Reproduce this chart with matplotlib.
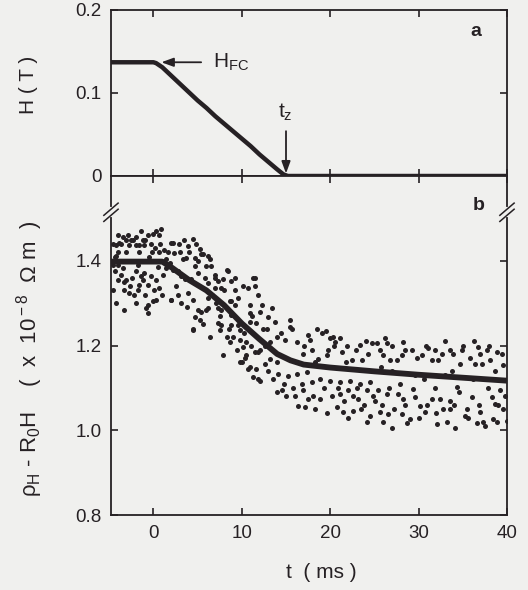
import matplotlib.pyplot as plt

plt.rcParams['font.family'] = 'Liberation Sans'
plt.rcParams['mathtext.fontset'] = 'custom'
plt.rcParams['mathtext.rm'] = 'Liberation Sans'
plt.rcParams['mathtext.it'] = 'Liberation Sans'
plt.rcParams['mathtext.bf'] = 'Liberation Sans:bold'

INK = '#262124'
PAPER = '#f0f0ee'

# (a) applied field during the field-cooled ramp down
t_field = [-4.8, 0.0, 0.3, 1.0, 2.0, 3.0, 4.0, 5.0, 6.0, 7.0, 8.0, 9.0, 10.0,
           11.0, 12.0, 13.0, 14.0, 14.7, 15.2, 20.0, 25.0, 30.0, 35.0, 40.0]
h_field = [0.137, 0.137, 0.136, 0.131, 0.121, 0.111, 0.101, 0.091, 0.082, 0.072,
           0.063, 0.054, 0.045, 0.036, 0.026, 0.017, 0.008, 0.002, 0.0, 0.0,
           0.0, 0.0, 0.0, 0.0]

# (b) Hall resistivity minus ordinary part, smoothed curve
t_fit = [-4.8, 1.0, 2.0, 4.0, 6.0, 8.0, 10.0, 12.0, 14.0, 15.5, 17.0, 20.0,
         25.0, 30.0, 35.0, 40.0]
rho_fit = [1.398, 1.398, 1.385, 1.355, 1.330, 1.295, 1.252, 1.215, 1.180,
           1.165, 1.155, 1.148, 1.139, 1.131, 1.124, 1.117]

# (b) raw points
t_pts = [-3.96, -3.40, -3.06, -2.72, -2.26, -1.93, -1.59, -1.36, -0.57, 0.00,
         0.34, 0.68, 0.91, -4.19, -3.85, -1.02, 1.25, 2.26, 2.38, -4.19,
         -3.96, -3.40, -3.62, -3.06, -3.96, -4.53, -1.93, -1.36, -1.02, -1.13,
         -3.28, -2.72, -2.15, -0.23, 0.34, 0.68, 1.13, 1.47, -0.57, -1.59,
         0.00, 0.34, -0.57, -0.79, -0.57, 2.04, 3.17, -3.28, -4.30, -2.80,
         -1.80, -0.50, 0.50, -4.60, -2.50, -0.90, -4.40, -2.40, 0.20, -3.10,
         -1.60, 0.60, -4.60, -4.00, -3.70, -2.90, -2.00, -1.20, -0.30, 0.80,
         -3.30, -2.60, -1.70, -0.90, 0.10, 1.00, -4.20, -2.00, -0.20, 1.60,
         2.60, 3.00,
         3.93, 4.49, 4.87, 5.25, 5.63, 6.19, 6.00, 3.36, 3.74, 4.68,
         5.06, 4.30, 3.93, 4.49, 5.06, 4.68, 5.25, 4.49, 6.00, 6.19,
         1.47, 1.85, 2.23, 2.79, 3.17, 3.55, 2.04, 2.04, 5.44, 8.46,
         9.21, 9.59, 11.47, 10.70, 11.85, 10.90, 8.83, 7.70, 8.27, 9.97,
         10.72, 11.85, 11.47, 4.49, 5.44, 6.19, 6.94, 9.21, 9.59, 10.53,
         11.85, 7.32, 6.94, 4.68, 7.89, 9.21, 8.83, 7.32,
         6.38, 6.57, 6.94, 8.27, 8.83, 7.70, 10.15, 11.29, 11.47, 8.64,
         6.19, 7.70, 10.90, 12.23, 12.04, 10.90, 13.36, 12.99, 13.74, 11.66,
         7.32, 8.83, 15.44, 9.78, 2.90, 3.50, 4.00, 5.00, 5.80, 6.60,
         7.10, 7.50, 8.00, 8.50, 9.00, 9.40, 10.20, 10.40, 11.00, 11.20,
         12.40, 12.60, 13.00, 13.50, 14.00, 14.40, 14.80, 15.00, 15.80, 3.80,
         2.80, 5.60,
         6.38, 7.51, 8.64, 9.78, 10.15, 7.89, 9.78, 10.53, 10.90, 11.66,
         12.60, 13.17, 12.04, 12.80, 13.17, 13.93, 14.87, 15.63, 16.19, 16.95,
         11.29, 12.04, 14.12, 15.25, 16.19, 17.32, 13.93, 14.50, 16.00, 16.95,
         16.38, 17.13, 16.76, 15.40, 18.50, 19.50, 17.50,
         19.03, 17.70, 19.97, 20.53, 21.10, 23.35, 24.69, 25.26, 26.20, 26.39,
         28.28, 21.29, 19.59, 18.65, 24.31, 23.56, 26.01, 26.76, 27.52, 28.46,
         28.09, 22.42, 17.89, 19.97, 21.10, 22.23, 23.35, 24.50, 18.09, 18.83,
         20.16, 21.10, 22.05, 22.61, 23.18, 24.12, 25.45, 26.39, 27.71, 28.28,
         17.52, 20.72, 21.48, 22.61, 25.07, 24.50, 25.63, 26.57, 28.09, 26.95,
         28.65, 17.00, 17.90, 18.30, 18.90, 19.30, 19.80, 20.40, 20.90, 21.60,
         21.90, 22.90, 23.00, 23.80, 24.00, 24.80, 25.60, 25.90, 26.60, 27.00,
         27.20, 27.90, 28.50, 18.30, 19.60, 22.00, 24.20, 26.00, 23.50, 20.30,
         21.80, 25.80, 27.00,
         29.22, 30.35, 31.11, 31.48, 32.24, 32.62, 33.56, 33.94, 34.69, 33.75,
         36.39, 36.77, 37.71, 38.84, 37.15, 38.09, 39.60, 29.41, 29.59, 30.16,
         30.73, 31.48, 32.42, 33.56, 32.81, 34.31, 36.01, 35.26, 34.12, 36.58,
         37.52, 38.47, 38.66, 39.22, 39.60, 39.98, 32.05, 29.03, 38.28, 36.96,
         29.80, 30.60, 31.00, 31.80, 32.00, 33.00, 33.20, 34.00, 34.60, 35.00,
         35.50, 35.80, 36.20, 36.80, 37.30, 37.80, 38.00, 38.60, 39.00, 39.40,
         39.80, 30.80, 31.90, 33.00, 34.90, 36.30, 37.00, 30.00, 33.60, 35.60,
         38.90, 29.60]
rho_pts = [1.460, 1.455, 1.448, 1.438, 1.448, 1.436, 1.438, 1.471, 1.460, 1.462,
           1.471, 1.460, 1.474, 1.436, 1.443, 1.436, 1.426, 1.443, 1.419, 1.412,
           1.390, 1.383, 1.367, 1.355, 1.355, 1.331, 1.376, 1.364, 1.371, 1.355,
           1.331, 1.324, 1.319, 1.364, 1.355, 1.336, 1.367, 1.383, 1.343, 1.343,
           1.305, 1.307, 1.295, 1.288, 1.276, 1.307, 1.300, 1.283, 1.410, 1.400,
           1.390, 1.410, 1.385, 1.440, 1.450, 1.450, 1.375, 1.360, 1.430, 1.420,
           1.420, 1.420, 1.390, 1.420, 1.440, 1.460, 1.455, 1.450, 1.440, 1.440,
           1.350, 1.340, 1.330, 1.320, 1.330, 1.320, 1.300, 1.300, 1.420, 1.420,
           1.340, 1.420,
           1.435, 1.451, 1.439, 1.427, 1.415, 1.411, 1.387, 1.403, 1.407, 1.387,
           1.371, 1.356, 1.324, 1.308, 1.284, 1.268, 1.260, 1.240, 1.284, 1.348,
           1.403, 1.395, 1.379, 1.375, 1.364, 1.356, 1.443, 1.308, 1.415, 1.375,
           1.360, 1.312, 1.360, 1.336, 1.320, 1.256, 1.272, 1.248, 1.221, 1.161,
           1.145, 1.121, 1.185, 1.236, 1.280, 1.312, 1.336, 1.296, 1.248, 1.209,
           1.185, 1.352, 1.360, 1.407, 1.356, 1.332, 1.304, 1.288,
           1.403, 1.387, 1.367, 1.379, 1.352, 1.336, 1.340, 1.360, 1.340, 1.304,
           1.288, 1.284, 1.296, 1.296, 1.280, 1.276, 1.288, 1.268, 1.256, 1.252,
           1.252, 1.248, 1.244, 1.236, 1.440, 1.450, 1.420, 1.400, 1.360, 1.320,
           1.300, 1.270, 1.330, 1.240, 1.220, 1.190, 1.230, 1.170, 1.200, 1.270,
           1.240, 1.200, 1.140, 1.120, 1.160, 1.230, 1.110, 1.080, 1.100, 1.290,
           1.320, 1.250,
           1.221, 1.236, 1.209, 1.213, 1.197, 1.177, 1.161, 1.177, 1.149, 1.145,
           1.157, 1.169, 1.189, 1.240, 1.209, 1.221, 1.213, 1.240, 1.209, 1.181,
           1.125, 1.117, 1.133, 1.129, 1.133, 1.137, 1.090, 1.094, 1.082, 1.094,
           1.058, 1.054, 1.110, 1.260, 1.240, 1.235, 1.225,
           1.229, 1.213, 1.217, 1.209, 1.217, 1.201, 1.205, 1.205, 1.217, 1.205,
           1.209, 1.185, 1.177, 1.169, 1.181, 1.165, 1.177, 1.165, 1.165, 1.189,
           1.177, 1.165, 1.114, 1.117, 1.114, 1.117, 1.110, 1.114, 1.082, 1.074,
           1.082, 1.086, 1.094, 1.082, 1.074, 1.094, 1.094, 1.086, 1.086, 1.074,
           1.074, 1.054, 1.042, 1.046, 1.070, 1.034, 1.042, 1.038, 1.038, 1.006,
           1.018, 1.200, 1.190, 1.160, 1.120, 1.100, 1.190, 1.200, 1.100, 1.070,
           1.200, 1.190, 1.100, 1.060, 1.210, 1.080, 1.190, 1.060, 1.100, 1.200,
           1.050, 1.110, 1.060, 1.050, 1.040, 1.030, 1.020, 1.020, 1.050, 1.220,
           1.160, 1.150, 1.140,
           1.189, 1.177, 1.193, 1.165, 1.165, 1.181, 1.189, 1.181, 1.157, 1.141,
           1.157, 1.197, 1.189, 1.185, 1.157, 1.165, 1.153, 1.098, 1.078, 1.058,
           1.042, 1.074, 1.074, 1.070, 1.050, 1.102, 1.078, 1.034, 1.006, 1.018,
           1.010, 1.026, 1.062, 1.094, 1.050, 1.022, 1.014, 1.026, 1.078, 1.042,
           1.170, 1.120, 1.060, 1.100, 1.040, 1.130, 1.020, 1.060, 1.090, 1.200,
           1.050, 1.170, 1.120, 1.060, 1.020, 1.100, 1.200, 1.140, 1.060, 1.180,
           1.080, 1.200, 1.190, 1.210, 1.190, 1.210, 1.180, 1.030, 1.050, 1.030,
           1.020, 1.130]

fig = plt.figure(figsize=(5.28, 5.90), dpi=100, facecolor=PAPER)
ax_a = fig.add_axes([0.2102, 0.7017, 0.7500, 0.2814], facecolor=PAPER)
ax_b = fig.add_axes([0.2102, 0.1271, 0.7500, 0.5746], facecolor=PAPER)

for ax in (ax_a, ax_b):
    ax.set_xlim(-4.8, 40)
    ax.set_xticks([0, 10, 20, 30, 40])
    ax.tick_params(direction='in', length=5, width=1.2, top=True, right=True,
                   colors=INK, labelsize=13.5, pad=7)
    for sp in ax.spines.values():
        sp.set_color(INK)
        sp.set_linewidth(1.3)

# top panel: field
ax_a.plot(t_field, h_field, color=INK, lw=3.2, solid_capstyle='butt')
ax_a.set_ylim(0, 0.2)
ax_a.set_yticks([0, 0.1, 0.2])
ax_a.set_yticklabels(['0', '0.1', '0.2'])
ax_a.tick_params(labelbottom=False)

arrow = dict(arrowstyle='-|>,head_length=0.6,head_width=0.22', color=INK,
             lw=1.3, mutation_scale=12, shrinkA=0, shrinkB=0)
ax_a.annotate('', xy=(0.9, 0.137), xytext=(5.4, 0.137), arrowprops=arrow)
ax_a.text(6.7, 0.130, r'H$_{\rm FC}$', fontsize=15, color=INK, va='baseline')
ax_a.annotate('', xy=(15.0, 0.003), xytext=(15.0, 0.054), arrowprops=arrow)
ax_a.text(14.1, 0.070, r't$_{\rm z}$', fontsize=15, color=INK, va='baseline')

# bottom panel: Hall resistivity
ax_b.scatter(t_pts, rho_pts, s=13, color=INK, linewidths=0, zorder=3)
ax_b.plot(t_fit, rho_fit, color=INK, lw=4.2, zorder=4, solid_capstyle='butt')
ax_b.set_ylim(0.8, 1.6)
ax_b.set_yticks([0.8, 1.0, 1.2, 1.4])
ax_b.set_yticklabels(['0.8', '1.0', '1.2', '1.4'])


def break_marks(ax, xa, ya):
    # small "//" on the spine, sizes in axes fractions
    dx, dy, gap = 0.018, 0.018, 0.009
    ax.plot([xa, xa], [ya - gap, ya + gap], color=PAPER, lw=3,
            transform=ax.transAxes, clip_on=False, zorder=5)
    for off in (-gap, gap):
        ax.plot([xa - dx, xa + dx], [ya + off - dy, ya + off + dy], color=INK,
                lw=1.1, transform=ax.transAxes, clip_on=False, zorder=6)


break_marks(ax_b, 0.0, 0.893)
break_marks(ax_b, 1.0, 0.893)

fig.text(476 / 528, 1 - 31 / 590, 'a', fontsize=14, weight='bold', color=INK,
         ha='center', va='center')
fig.text(479 / 528, 1 - 205 / 590, 'b', fontsize=14, weight='bold', color=INK,
         ha='center', va='center')

fig.text(28 / 528, 1 - 85 / 590, 'H ( T )', rotation=90, fontsize=15,
         color=INK, ha='center', va='center')
fig.text(30 / 528, 1 - 359 / 590,
         r'$\rho_{\rm H}$ - R$_{\rm 0}$H    (  x  10$^{\rm -8}$  $\Omega$ m  )',
         rotation=90, fontsize=16, color=INK, ha='center', va='center')
fig.text(321 / 528, 1 - 573 / 590, 't  ( ms )', fontsize=15, color=INK,
         ha='center', va='center')

fig.savefig('out.png', dpi=100, facecolor=PAPER)
